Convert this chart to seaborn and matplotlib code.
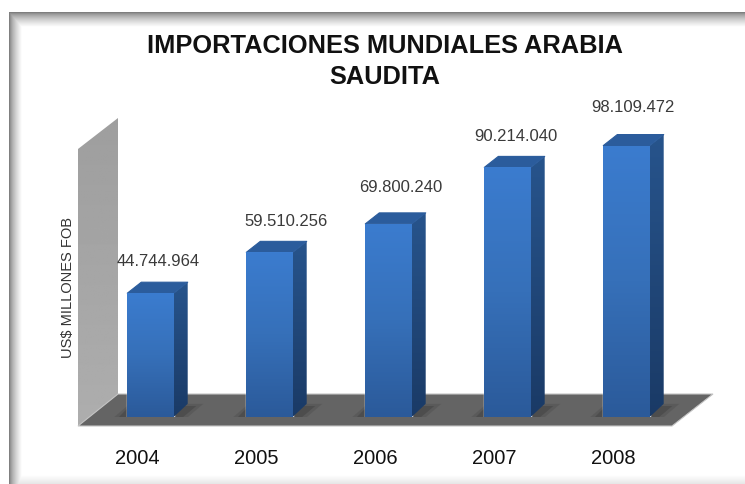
import numpy as np
import seaborn as sns
import matplotlib
matplotlib.use("Agg")
import matplotlib.pyplot as plt
from matplotlib.patches import Polygon
from matplotlib.transforms import ScaledTranslation

# data
years = ["2004", "2005", "2006", "2007", "2008"]
imports_fob = [44744964, 59510256, 69800240, 90214040, 98109472]
title = "IMPORTACIONES MUNDIALES ARABIA\nSAUDITA"
y_title = "US$ MILLONES FOB"

W, H = 745, 485
sns.set_theme(style="white")
plt.rcParams["font.family"] = ["Liberation Sans", "DejaVu Sans"]

fig = plt.figure(figsize=(W / 100, H / 100), dpi=100, facecolor="white")

# background in pixel coords: frame, wall and floor
bg = fig.add_axes([0, 0, 1, 1], zorder=0)
bg.set_xlim(0, W)
bg.set_ylim(H, 0)
bg.axis("off")

xx, yy = np.meshgrid(np.arange(W) + 0.5, np.arange(H) + 0.5)
fade = np.minimum(np.clip((xx - 9) / 13, 0, 1), np.clip((yy - 13) / 15, 0, 1)) ** 0.6
frame = 0.42 + 0.58 * fade
frame = np.minimum(frame, 1 - 0.10 * np.clip((yy - 476) / 9, 0, 1))
frame[(xx < 9) | (yy < 13)] = 1
bg.imshow(frame, cmap="gray", vmin=0, vmax=1, extent=(0, W, H, 0), aspect="auto", zorder=0)

wall = Polygon([(78, 150), (118, 119), (118, 396), (78, 427)], closed=True, fc="none", ec="none")
bg.add_patch(wall)
wall_grad = np.linspace(0.62, 0.68, 200).reshape(-1, 1)
im = bg.imshow(wall_grad, cmap="gray", vmin=0, vmax=1, extent=(78, 118, 427, 119), aspect="auto", zorder=1)
im.set_clip_path(wall)
bg.add_patch(Polygon([(78, 427), (118, 395), (713, 395), (672, 427)], closed=True, fc="#646464", ec="#c4c4c4", lw=0.8, zorder=2))
bg.set_xlim(0, W)
bg.set_ylim(H, 0)

# bars
ax = fig.add_axes([91 / W, (H - 418) / H, 595 / W, 332 / H], zorder=1)
ax.patch.set_alpha(0)
sns.barplot(x=years, y=imports_fob, color="#3774c4", width=0.39, saturation=1, ax=ax, zorder=4)
ax.set_xlim(-0.5, 4.5)
ax.set_ylim(0, 120e6)
dx = 14 / 119
dy = 11 * 120e6 / 332

label_shift = [8, 17, 12.5, 8.5, 6.5]
label_rise = [33, 32, 37, 32, 39]
for bar, val, shift, rise in zip(ax.patches, imports_fob, label_shift, label_rise):
    x0, x1 = bar.get_x(), bar.get_x() + bar.get_width()
    top = bar.get_height()

    # soft shadow on the floor
    ax.add_patch(Polygon([(x0 - 0.11, 0), (x1 + 0.12, 0), (x1 + 0.25, dy * 1.2), (x0 + 0.02, dy * 1.2)],
                         closed=True, fc="#505050", ec="none", alpha=0.45, zorder=3))
    ax.add_patch(Polygon([(x0 - 0.07, 0), (x1 + 0.08, 0), (x1 + 0.19, dy), (x0 + 0.02, dy)],
                         closed=True, fc="#484848", ec="none", alpha=0.7, zorder=3))

    # front face gradient
    front = np.linspace(0.0, 1.0, 128).reshape(-1, 1)
    cmap_f = matplotlib.colors.LinearSegmentedColormap.from_list("f", ["#3b7ccf", "#3670b9", "#2b5a9a"])
    img = ax.imshow(front, cmap=cmap_f, extent=(x0, x1, 0, top), aspect="auto", zorder=5)
    img.set_clip_path(bar)

    # side face
    side = Polygon([(x1, 0), (x1 + dx, dy * 1.2), (x1 + dx, top + dy), (x1, top)], closed=True, fc="none", ec="none", zorder=4)
    ax.add_patch(side)
    cmap_s = matplotlib.colors.LinearSegmentedColormap.from_list("s", ["#27548c", "#1a3a66"])
    img2 = ax.imshow(front, cmap=cmap_s, extent=(x1, x1 + dx, 0, top + dy), aspect="auto", zorder=4)
    img2.set_clip_path(side)

    # top face
    ax.add_patch(Polygon([(x0, top), (x1, top), (x1 + dx, top + dy), (x0 + dx, top + dy)],
                         closed=True, fc="#2b5c9c", ec="#2b5c9c", lw=0.8, joinstyle="round", zorder=4))

    ax.annotate(f"{val:,}".replace(",", "."), xy=((x0 + x1) / 2, top), xytext=(shift, rise),
                textcoords="offset pixels", ha="center", va="center", fontsize=12, color="#3a3a3a")

ax.set_xlim(-0.5, 4.5)
ax.set_ylim(0, 120e6)

ax.set_yticks([])
ax.tick_params(axis="x", length=0, pad=22, labelsize=14.5, labelcolor="#111111")
for lab in ax.get_xticklabels():
    lab.set_transform(lab.get_transform() + ScaledTranslation(-13.5 / 100, 0, fig.dpi_scale_trans))
ax.set_ylabel(y_title, fontsize=10.5, color="#333333")
ax.yaxis.set_label_coords((75 - 91) / 595, (418 - 287.5) / 332)
sns.despine(ax=ax, left=True, bottom=True)

fig.text(384.5 / W, 1 - 61.5 / H, title, ha="center", va="center", fontsize=18.3, fontweight="bold",
         color="#111111", linespacing=1.35)

fig.savefig("out.png", dpi=100)
